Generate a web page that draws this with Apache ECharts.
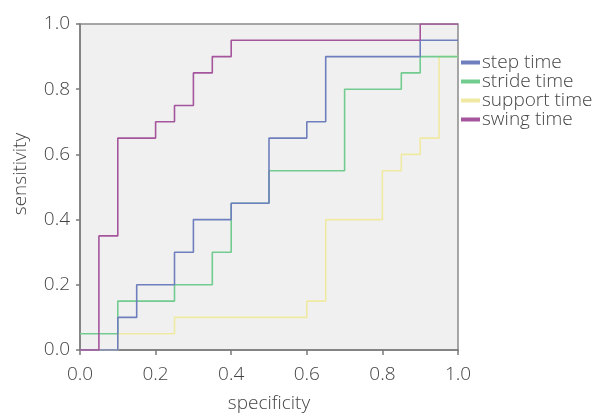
<!DOCTYPE html>
<html>
<head>
<meta charset="utf-8">
<script src="https://cdn.jsdelivr.net/npm/echarts@6/dist/echarts.min.js"></script>
<style>
html,body{margin:0;padding:0;background:#fff;}
#c{width:600px;height:414px;}
</style>
</head>
<body>
<div id="c"></div>
<script>
var seriesNames = ['step time', 'stride time', 'support time', 'swing time'];
var seriesColors = ['#6f7fbd', '#72cc8f', '#efe9a2', '#a4559c'];
var xTicks = [0.0, 0.2, 0.4, 0.6, 0.8, 1.0];
var yTicks = [0.0, 0.2, 0.4, 0.6, 0.8, 1.0];

// ROC curve corner points (specificity axis as drawn, sensitivity)
var stepX   = [0, 0.1, 0.1, 0.15, 0.15, 0.25, 0.25, 0.3, 0.3, 0.4, 0.4, 0.5, 0.5, 0.6, 0.6, 0.65, 0.65, 0.9, 0.9, 1.0];
var stepY   = [0, 0, 0.1, 0.1, 0.2, 0.2, 0.3, 0.3, 0.4, 0.4, 0.45, 0.45, 0.65, 0.65, 0.7, 0.7, 0.9, 0.9, 0.95, 0.95];
var strideX = [0, 0.1, 0.1, 0.25, 0.25, 0.35, 0.35, 0.4, 0.4, 0.5, 0.5, 0.7, 0.7, 0.85, 0.85, 0.9, 0.9, 1.0];
var strideY = [0.05, 0.05, 0.15, 0.15, 0.2, 0.2, 0.3, 0.3, 0.45, 0.45, 0.55, 0.55, 0.8, 0.8, 0.85, 0.85, 0.9, 0.9];
var supportX = [0, 0.1, 0.1, 0.25, 0.25, 0.6, 0.6, 0.65, 0.65, 0.8, 0.8, 0.85, 0.85, 0.9, 0.9, 0.95, 0.95, 1.0];
var supportY = [0, 0, 0.05, 0.05, 0.1, 0.1, 0.15, 0.15, 0.4, 0.4, 0.55, 0.55, 0.6, 0.6, 0.65, 0.65, 0.9, 0.9];
var swingX  = [0, 0.05, 0.05, 0.1, 0.1, 0.2, 0.2, 0.25, 0.25, 0.3, 0.3, 0.35, 0.35, 0.4, 0.4, 0.9, 0.9, 1.0];
var swingY  = [0, 0, 0.35, 0.35, 0.65, 0.65, 0.7, 0.7, 0.75, 0.75, 0.85, 0.85, 0.9, 0.9, 0.95, 0.95, 1.0, 1.0];

function pairs(xs, ys) { return xs.map(function (x, i) { return [x, ys[i]]; }); }
var allData = [pairs(stepX, stepY), pairs(strideX, strideY), pairs(supportX, supportY), pairs(swingX, swingY)];

var font = 'Open Sans';
var txt = '#444444';
var fw = 300;
var chart = echarts.init(document.getElementById('c'));
chart.setOption({
  animation: false,
  grid: {left: 80, right: 142, top: 24, bottom: 64, outerBoundsMode: 'none', containLabel: false,
         show: true, backgroundColor: '#f0f0f0', borderColor: '#8a8a8a', borderWidth: 1.5},
  legend: {
    orient: 'vertical', left: 461, top: 53, itemWidth: 19, itemHeight: 4, itemGap: 0, padding: 0,
    icon: 'rect',
    data: seriesNames,
    textStyle: {fontFamily: font, fontSize: 19, fontWeight: fw, color: txt, lineHeight: 18.5, padding: [0, 0, 0, -3]}
  },
  xAxis: {
    type: 'value', min: 0, max: 1, interval: 0.2,
    name: 'specificity', nameLocation: 'middle', nameGap: 44,
    nameTextStyle: {fontFamily: font, fontSize: 19, fontWeight: fw, color: txt},
    axisLine: {show: true, lineStyle: {color: '#7a7a7a', width: 1.5}},
    axisTick: {show: true, length: 5, lineStyle: {color: '#7a7a7a', width: 1.5}},
    axisLabel: {fontFamily: font, fontSize: 19, fontWeight: fw, color: txt, margin: 15, formatter: function (v) { return v.toFixed(1); }},
    splitLine: {show: false}
  },
  yAxis: {
    type: 'value', min: 0, max: 1, interval: 0.2,
    name: 'sensitivity', nameLocation: 'middle', nameGap: 50,
    nameTextStyle: {fontFamily: font, fontSize: 19, fontWeight: fw, color: txt, padding: [0, 0, 0, 26]},
    axisLine: {show: true, lineStyle: {color: '#7a7a7a', width: 1.5}},
    axisTick: {show: true, length: 4, lineStyle: {color: '#7a7a7a', width: 1.5}},
    axisLabel: {fontFamily: font, fontSize: 19, fontWeight: fw, color: txt, margin: 10, formatter: function (v) { return v.toFixed(1); }},
    splitLine: {show: false}
  },
  series: seriesNames.map(function (n, i) {
    return {
      name: n, type: 'line', data: allData[i], showSymbol: false, symbol: 'none',
      lineStyle: {color: seriesColors[i], width: 1.6},
      itemStyle: {color: seriesColors[i]},
      z: [3, 2, 1, 4][i]
    };
  })
});
</script>
</body>
</html>
